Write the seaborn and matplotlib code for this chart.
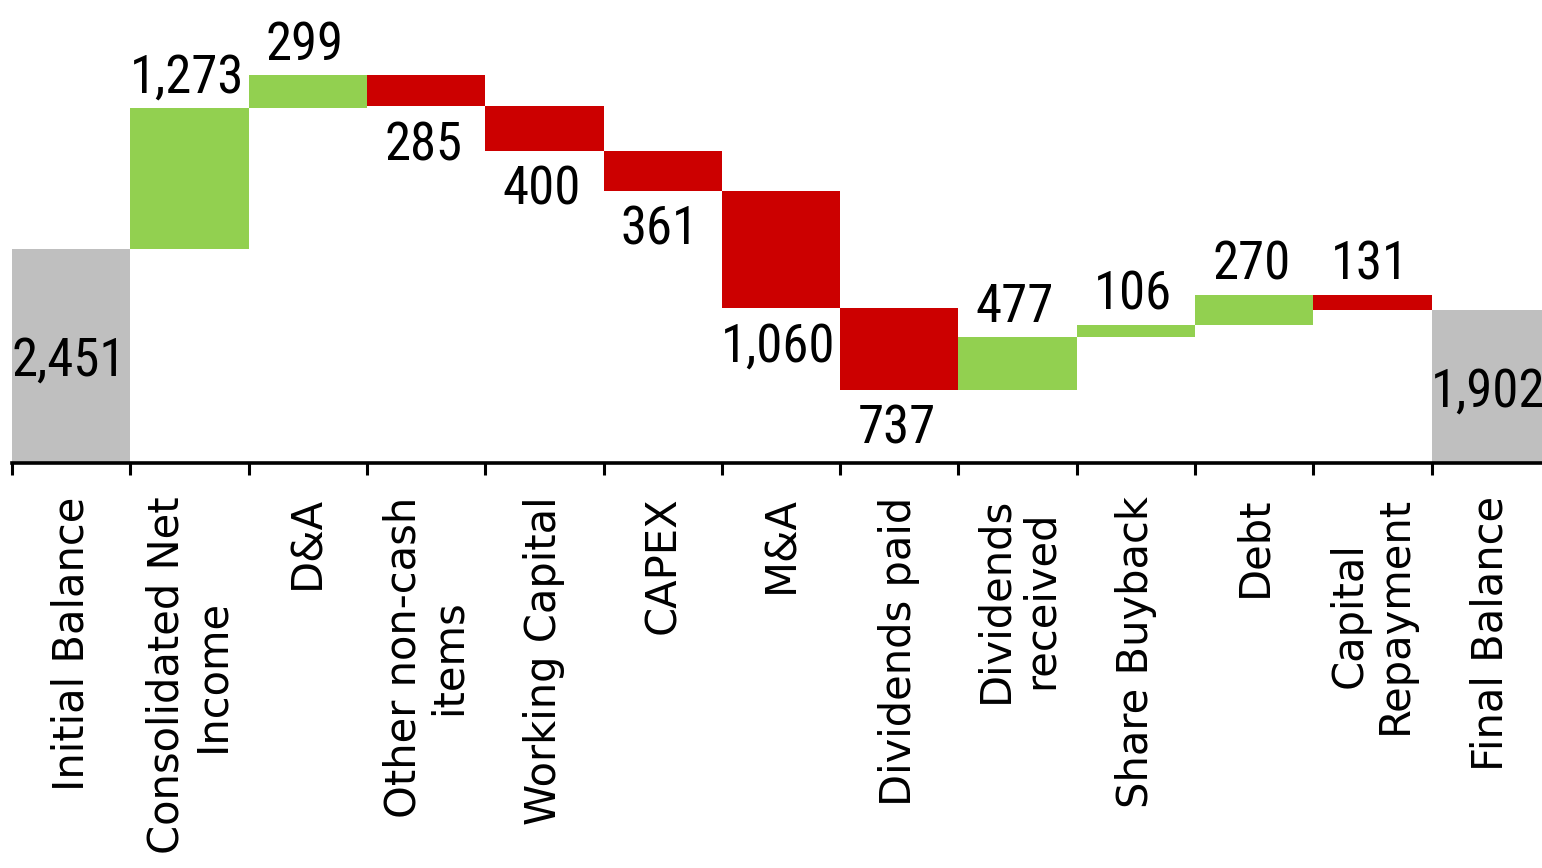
import matplotlib
matplotlib.use("Agg")
import matplotlib.pyplot as plt
import seaborn as sns
import numpy as np
import pandas as pd
from matplotlib import font_manager

# ---------------- data ----------------
categories = ["Initial Balance", "Consolidated Net\nIncome", "D&A", "Other non-cash\nitems",
              "Working Capital", "CAPEX", "M&A", "Dividends paid", "Dividends\nreceived",
              "Share Buyback", "Debt", "Capital\nRepayment", "Final Balance"]
changes = [2451, 1273, 299, -285, -400, -361, -1060, -737, 477, 106, 270, -131, 1902]
kinds = ["total", "up", "up", "down", "down", "down", "down", "down",
         "up", "up", "up", "down", "total"]
value_labels = ["2,451", "1,273", "299", "285", "400", "361", "1,060", "737",
                "477", "106", "270", "131", "1,902"]
label_side = ["inside", "above", "above", "below", "below", "below", "below", "below",
              "above", "above", "above", "above", "inside"]

kind_colors = {"total": "#BFBFBF", "up": "#92D050", "down": "#CC0000"}

# ---------------- waterfall geometry from data ----------------
bottoms, heights = [], []
running = 0
for v, k in zip(changes, kinds):
    if k == "total":
        bottoms.append(0)
        heights.append(v)
        running = v
    else:
        new = running + v
        bottoms.append(min(running, new))
        heights.append(abs(v))
        running = new
tops = [b + h for b, h in zip(bottoms, heights)]

df = pd.DataFrame({"category": categories, "height": heights})
palette = {c: kind_colors[k] for c, k in zip(categories, kinds)}

available = {f.name for f in font_manager.fontManager.ttflist}
num_font = "Liberation Sans"
num_size = 33
for cand, size in [("Liberation Sans Narrow", 38), ("Arial Narrow", 38),
                   ("Roboto Condensed", 38), ("Archivo Narrow", 37),
                   ("PT Sans Narrow", 38), ("IBM Plex Sans Condensed", 37)]:
    if cand in available:
        num_font, num_size = cand, size
        break

sns.set_style("white")
plt.rcParams["font.family"] = ["DejaVu Sans"]

fig = plt.figure(figsize=(15.42, 8.68), dpi=100)
ax = fig.add_axes([12 / 1542, 405 / 868, 1538 / 1542, 463 / 868])

sns.barplot(data=df, x="category", y="height", hue="category", order=categories,
            hue_order=categories, palette=palette, legend=False, width=1.0,
            saturation=1, linewidth=0, ax=ax)

for p, b in zip(ax.patches, bottoms):
    p.set_y(b)

ymin, ymax = 519, 4698
ax.set_ylim(ymin, ymax)
ax.set_xlim(-0.5, len(categories) - 0.5)

# value labels
off = 11
for i, (txt, side) in enumerate(zip(value_labels, label_side)):
    kw = dict(ha="center", fontsize=num_size, family=num_font, color="black",
              textcoords="offset points")
    if side == "inside":
        ax.annotate(txt, xy=(i, (ymin + tops[i]) / 2), xytext=(-2, -4), va="center", **kw)
    elif side == "above":
        ax.annotate(txt, xy=(i, tops[i]), xytext=(-2, off), va="baseline", **kw)
    else:
        ax.annotate(txt, xy=(i, bottoms[i]), xytext=(-2, -off + 1), va="top", **kw)

# axes styling
for s in ["left", "right", "top"]:
    ax.spines[s].set_visible(False)
ax.spines["bottom"].set_linewidth(2.6)
ax.spines["bottom"].set_color("black")
ax.set_yticks([])
ax.set_xlabel("")
ax.set_ylabel("")

ax.set_xticks(range(len(categories)))
ax.set_xticklabels(categories, rotation=90, ha="center", va="top",
                   fontsize=30, family="DejaVu Sans", linespacing=1.1)
ax.set_xticks(np.arange(-0.5, len(categories), 1.0), minor=True)
ax.tick_params(axis="x", which="major", length=0, pad=24, colors="black")
ax.tick_params(axis="x", which="minor", length=8.5, width=2.2, direction="out",
               color="black", bottom=True)

fig.savefig("out.png", dpi=100)
